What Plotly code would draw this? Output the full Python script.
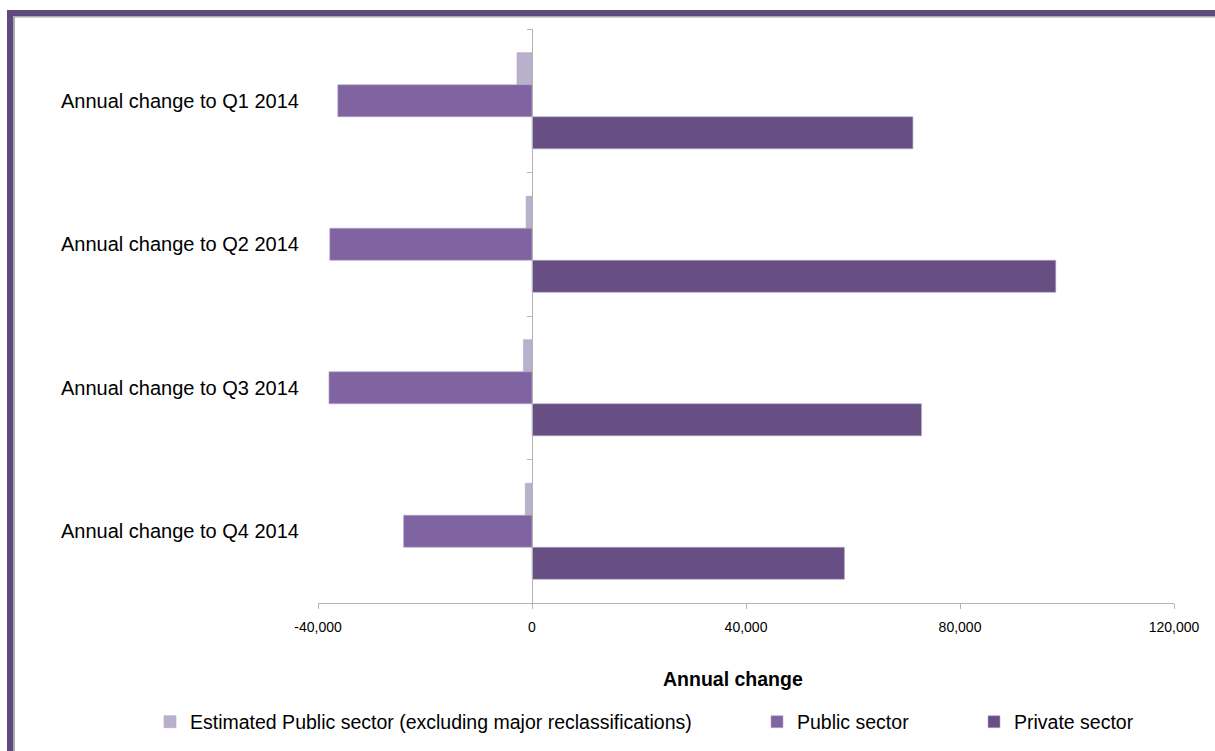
import plotly.graph_objects as go

# ---- data ----
categories = ["Annual change to Q1 2014", "Annual change to Q2 2014",
              "Annual change to Q3 2014", "Annual change to Q4 2014"]
series_names = ["Estimated Public sector (excluding major reclassifications)",
                "Public sector", "Private sector"]
estimated_public = [-2800, -1100, -1600, -1250]
public_sector = [-36300, -37800, -37950, -24000]
private_sector = [71200, 97900, 72800, 58400]
tick_vals = [-40000, 0, 40000, 80000, 120000]
tick_labels = ["-40,000", "0", "40,000", "80,000", "120,000"]
x_title = "Annual change"

colors = ["#b9b0cc", "#8064a2", "#674f84"]

# ---- layout geometry (pixels) ----
W, H = 1215, 751
L, R, T, B = 318, 1174, 29, 603
PW, PH = R - L, B - T

def px(x):
    return (x - L) / PW

def py(y):
    return (B - y) / PH

FONT = "Liberation Sans, Arial, sans-serif"

fig = go.Figure()
for i, (name, vals) in enumerate(zip(series_names,
                                     [estimated_public, public_sector, private_sector])):
    fig.add_trace(go.Bar(
        y=categories, x=vals, name=name, orientation="h",
        marker=dict(color=colors[i], line=dict(color="#b3a6c9", width=0.6)),
        legend="legend" if i == 0 else f"legend{i+1}",
    ))

legend_common = dict(orientation="h", yref="paper", yanchor="middle", y=py(722),
                     xanchor="left", font=dict(family=FONT, size=19.5, color="#000000"),
                     bgcolor="rgba(0,0,0,0)", itemwidth=30, itemclick=False)

fig.update_layout(
    width=W, height=H,
    margin=dict(l=L, r=W - R, t=T, b=H - B, autoexpand=False),
    paper_bgcolor="white", plot_bgcolor="white",
    barmode="group", bargap=0.33, bargroupgap=0,
    font=dict(family=FONT, color="#000000"),
    showlegend=True,
    legend=dict(x=px(150), **legend_common),
    legend2=dict(x=px(757), **legend_common),
    legend3=dict(x=px(974), **legend_common),
    xaxis=dict(range=[-40000, 120000], tickvals=tick_vals, ticktext=tick_labels,
               showgrid=False, zeroline=False, showline=True, linecolor="#b4b4b4",
               linewidth=1, ticks="outside", ticklen=5, tickcolor="#b4b4b4",
               ticklabelstandoff=6,
               tickfont=dict(family=FONT, size=14, color="#000000"), fixedrange=True),
    yaxis=dict(autorange="reversed", showticklabels=False, showgrid=False,
               anchor="free", position=px(532), showline=True, linecolor="#b4b4b4",
               linewidth=1, ticks="outside", tickson="boundaries", ticklen=5,
               tickcolor="#b4b4b4", fixedrange=True),
)

# category labels
for c in categories:
    fig.add_annotation(x=px(301), y=c, xref="paper", yref="y", text=c,
                       showarrow=False, xanchor="right", yanchor="middle",
                       font=dict(family=FONT, size=20, color="#000000"))

# axis title
fig.add_annotation(x=px(733), y=py(679), xref="paper", yref="paper", text="<b>" + x_title + "</b>",
                   showarrow=False, xanchor="center", yanchor="middle",
                   font=dict(family=FONT, size=19.5, color="#000000"))

# frame: purple border on the left and top with a thin grey inner line
border = "#5f4a7e"
fig.add_shape(type="rect", xref="paper", yref="paper", x0=px(7), x1=px(W + 5),
              y0=py(16), y1=py(10), fillcolor=border, line_width=0, layer="above")
fig.add_shape(type="rect", xref="paper", yref="paper", x0=px(7), x1=px(13.5),
              y0=py(H + 5), y1=py(10), fillcolor=border, line_width=0, layer="above")
fig.add_shape(type="line", xref="paper", yref="paper", x0=px(14.2), x1=px(14.2),
              y0=py(16.5), y1=py(H + 5), line=dict(color="#a8a8a8", width=1.5))
fig.add_shape(type="line", xref="paper", yref="paper", x0=px(14.2), x1=px(W + 5),
              y0=py(16.8), y1=py(16.8), line=dict(color="#a8a8a8", width=1.5))

fig.write_html("out.html", config={"displayModeBar": False})

# remove the browser's default page margin so the figure sits at (0, 0)
with open("out.html", "r", encoding="utf-8") as f:
    html = f.read()
html = html.replace("<head>", "<head><style>html,body{margin:0;padding:0;overflow:hidden;}</style>", 1)
with open("out.html", "w", encoding="utf-8") as f:
    f.write(html)
